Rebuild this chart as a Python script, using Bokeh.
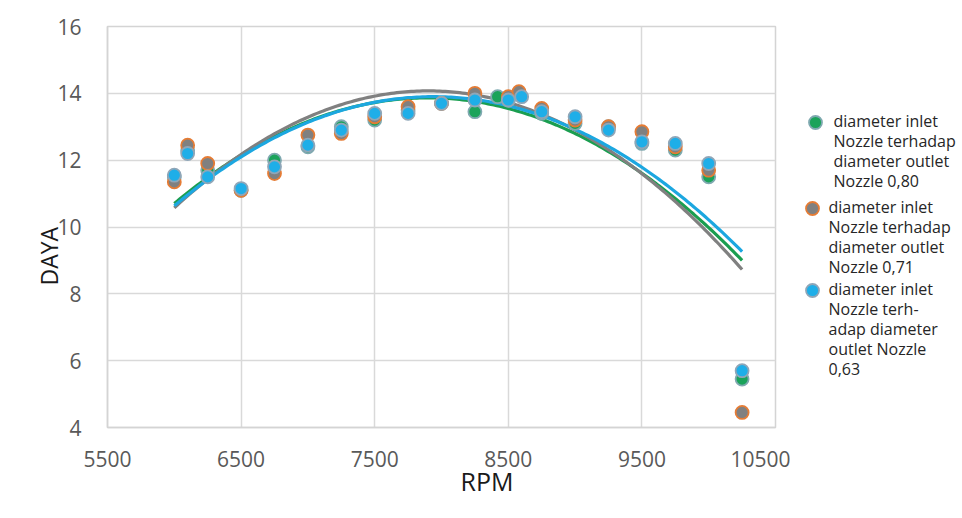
import numpy as np
from bokeh.plotting import figure
from bokeh.models import Title, FixedTicker, ColumnDataSource
from bokeh.layouts import row
from bokeh.embed import file_html
from bokeh.resources import INLINE

# ---- data ----
rpm_080 = [6000, 6100, 6250, 6500, 6750, 7000, 7250, 7500, 7750, 8000, 8250, 8420, 8500, 8750, 9000, 9250, 9500, 9750, 10000, 10250]
daya_080 = [11.5, 12.3, 11.7, 11.1, 12.0, 12.4, 13.0, 13.2, 13.5, 13.7, 13.45, 13.9, 13.8, 13.4, 13.1, 13.0, 12.5, 12.3, 11.5, 5.45]

rpm_071 = [6000, 6100, 6250, 6500, 6750, 7000, 7250, 7500, 7750, 8000, 8250, 8500, 8580, 8750, 9000, 9250, 9500, 9750, 10000, 10250]
daya_071 = [11.35, 12.45, 11.9, 11.1, 11.6, 12.75, 12.8, 13.3, 13.6, 13.7, 14.0, 13.9, 14.05, 13.55, 13.2, 13.0, 12.85, 12.4, 11.7, 4.45]

rpm_063 = [6000, 6100, 6250, 6500, 6750, 7000, 7250, 7500, 7750, 8000, 8250, 8500, 8600, 8750, 9000, 9250, 9500, 9750, 10000, 10250]
daya_063 = [11.55, 12.2, 11.5, 11.15, 11.8, 12.45, 12.9, 13.4, 13.4, 13.7, 13.8, 13.8, 13.9, 13.45, 13.3, 12.9, 12.55, 12.5, 11.9, 5.7]

labels = [
    "diameter inlet\nNozzle terhadap\ndiameter outlet\nNozzle 0,80",
    "diameter inlet\nNozzle terhadap\ndiameter outlet\nNozzle 0,71",
    "diameter inlet\nNozzle terh-\nadap diameter\noutlet Nozzle\n0,63",
]
x_ticks = [5500, 6500, 7500, 8500, 9500, 10500]
y_ticks = [4, 6, 8, 10, 12, 14, 16]

fills = ["#1aa35a", "#808080", "#1eaee8"]
edges = ["#7fa9b0", "#e57c35", "#8fa6b8"]
trend_colors = ["#1a9e50", "#808080", "#1ca7e0"]
series = list(zip([rpm_080, rpm_071, rpm_063], [daya_080, daya_071, daya_063]))

p = figure(width=790, height=510, x_range=(5500, 10500), y_range=(4, 16),
           output_backend="svg", toolbar_location=None,
           min_border_left=107, min_border_right=15, min_border_top=26, min_border_bottom=83)
p.background_fill_color = "white"
p.border_fill_color = "white"
p.outline_line_color = "#d4d4d4"
p.outline_line_width = 1.5

for ax in (p.xaxis[0], p.yaxis[0]):
    ax.axis_line_color = "#d4d4d4"
    ax.axis_line_width = 1.5
    ax.major_tick_line_color = None
    ax.minor_tick_line_color = None
    ax.major_label_text_font = "Open Sans"
    ax.major_label_text_font_size = "21px"
    ax.major_label_text_color = "#595959"
p.xaxis.ticker = FixedTicker(ticks=x_ticks)
p.yaxis.ticker = FixedTicker(ticks=y_ticks)
p.xaxis.major_label_standoff = 17
p.yaxis.major_label_standoff = 20
p.grid.grid_line_color = "#d9d9d9"
p.grid.grid_line_width = 1.5

xs_line = np.linspace(6000, 10250, 200)
# trendlines (2nd order polynomial fit of each series, as in the spreadsheet)
for (xs, ys), lc in zip(series, trend_colors):
    coef = np.polyfit(xs, ys, 2)
    p.line(xs_line, np.polyval(coef, xs_line), line_color=lc, line_width=3.2)

for (xs, ys), fc, ec in zip(series, fills, edges):
    p.scatter(xs, ys, size=13, fill_color=fc, line_color=ec, line_width=1.8)

p.add_layout(Title(text="RPM", align="left", offset=353, standoff=-15,
                   text_font="Open Sans", text_font_size="25px", text_font_style="normal",
                   text_color="#1a1a1a"), "below")
p.add_layout(Title(text="DAYA", align="left", offset=142, standoff=-20,
                   text_font="Open Sans", text_font_size="23px", text_font_style="normal",
                   text_color="#1a1a1a"), "left")

# ---- legend panel: its frame is aligned with the chart frame (page px 26..427) ----
lg = figure(width=172, height=510, x_range=(790, 962), y_range=(427, 26),
            output_backend="svg", toolbar_location=None,
            x_axis_type=None, y_axis_type=None,
            min_border_left=0, min_border_right=0, min_border_top=26, min_border_bottom=83)
lg.grid.visible = False
lg.outline_line_color = None
lg.background_fill_color = "white"
lg.border_fill_color = "white"
leg = ColumnDataSource(dict(
    mx=[815, 812, 812], my=[122, 208, 290],
    tx=[833, 828, 828], ty=[109, 195, 277],
    fill=fills, edge=edges, text=labels,
))
lg.scatter("mx", "my", source=leg, size=13, fill_color="fill", line_color="edge", line_width=1.8)
lg.text("tx", "ty", text="text", source=leg, text_baseline="top", text_align="left",
        text_font_size="16px", text_line_height=0.92, text_color="#262626",
        text_font={"value": "Open Sans"})

layout = row(p, lg, spacing=0)
open("out.html", "w").write(file_html(layout, INLINE))
